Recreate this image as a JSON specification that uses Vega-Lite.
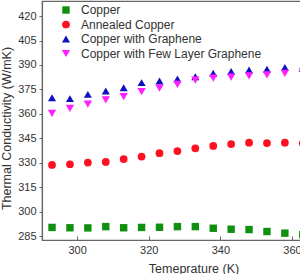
{
  "$schema": "https://vega.github.io/schema/vega-lite/v6.json",
  "width": 259,
  "height": 239,
  "autosize": {"type": "none"},
  "padding": {"left": 42, "top": 1, "right": 0, "bottom": 34},
  "background": "white",
  "config": {
    "view": {"stroke": "#666666", "strokeWidth": 1.2},
    "font": "Liberation Sans",
    "axis": {"domainColor": "#666666", "tickColor": "#666666", "labelColor": "#333333", "titleColor": "#333333", "labelFontSize": 11, "titleFontSize": 12.5, "titleFontWeight": "normal", "grid": false, "domainWidth": 1.2, "labelOverlap": false}
  },
  "data": {"values": [
    {"T": 293, "k": 290.5, "s": "Copper"},
    {"T": 298, "k": 290.3, "s": "Copper"},
    {"T": 303, "k": 290.2, "s": "Copper"},
    {"T": 308, "k": 291.0, "s": "Copper"},
    {"T": 313, "k": 290.3, "s": "Copper"},
    {"T": 318, "k": 290.5, "s": "Copper"},
    {"T": 323, "k": 290.6, "s": "Copper"},
    {"T": 328, "k": 291.0, "s": "Copper"},
    {"T": 333, "k": 291.0, "s": "Copper"},
    {"T": 338, "k": 290.0, "s": "Copper"},
    {"T": 343, "k": 289.4, "s": "Copper"},
    {"T": 348, "k": 289.2, "s": "Copper"},
    {"T": 353, "k": 288.0, "s": "Copper"},
    {"T": 358, "k": 287.0, "s": "Copper"},
    {"T": 363, "k": 286.0, "s": "Copper"},
    {"T": 293, "k": 328.8, "s": "Annealed Copper"},
    {"T": 298, "k": 329.2, "s": "Annealed Copper"},
    {"T": 303, "k": 330.2, "s": "Annealed Copper"},
    {"T": 308, "k": 330.6, "s": "Annealed Copper"},
    {"T": 313, "k": 332.4, "s": "Annealed Copper"},
    {"T": 318, "k": 333.9, "s": "Annealed Copper"},
    {"T": 323, "k": 336.0, "s": "Annealed Copper"},
    {"T": 328, "k": 337.3, "s": "Annealed Copper"},
    {"T": 333, "k": 339.0, "s": "Annealed Copper"},
    {"T": 338, "k": 340.4, "s": "Annealed Copper"},
    {"T": 343, "k": 341.6, "s": "Annealed Copper"},
    {"T": 348, "k": 342.4, "s": "Annealed Copper"},
    {"T": 353, "k": 342.2, "s": "Annealed Copper"},
    {"T": 358, "k": 342.4, "s": "Annealed Copper"},
    {"T": 363, "k": 342.0, "s": "Annealed Copper"},
    {"T": 293, "k": 370.0, "s": "Copper with Graphene"},
    {"T": 298, "k": 369.4, "s": "Copper with Graphene"},
    {"T": 303, "k": 372.0, "s": "Copper with Graphene"},
    {"T": 308, "k": 374.0, "s": "Copper with Graphene"},
    {"T": 313, "k": 376.0, "s": "Copper with Graphene"},
    {"T": 318, "k": 379.2, "s": "Copper with Graphene"},
    {"T": 323, "k": 380.2, "s": "Copper with Graphene"},
    {"T": 328, "k": 381.4, "s": "Copper with Graphene"},
    {"T": 333, "k": 382.8, "s": "Copper with Graphene"},
    {"T": 338, "k": 384.9, "s": "Copper with Graphene"},
    {"T": 343, "k": 386.0, "s": "Copper with Graphene"},
    {"T": 348, "k": 386.9, "s": "Copper with Graphene"},
    {"T": 353, "k": 387.4, "s": "Copper with Graphene"},
    {"T": 358, "k": 388.4, "s": "Copper with Graphene"},
    {"T": 363, "k": 388.0, "s": "Copper with Graphene"},
    {"T": 293, "k": 360.4, "s": "Copper with Few Layer Graphene"},
    {"T": 298, "k": 363.5, "s": "Copper with Few Layer Graphene"},
    {"T": 303, "k": 366.0, "s": "Copper with Few Layer Graphene"},
    {"T": 308, "k": 368.6, "s": "Copper with Few Layer Graphene"},
    {"T": 313, "k": 370.6, "s": "Copper with Few Layer Graphene"},
    {"T": 318, "k": 373.7, "s": "Copper with Few Layer Graphene"},
    {"T": 323, "k": 375.8, "s": "Copper with Few Layer Graphene"},
    {"T": 328, "k": 378.2, "s": "Copper with Few Layer Graphene"},
    {"T": 333, "k": 380.8, "s": "Copper with Few Layer Graphene"},
    {"T": 338, "k": 381.9, "s": "Copper with Few Layer Graphene"},
    {"T": 343, "k": 382.5, "s": "Copper with Few Layer Graphene"},
    {"T": 348, "k": 383.3, "s": "Copper with Few Layer Graphene"},
    {"T": 353, "k": 383.9, "s": "Copper with Few Layer Graphene"},
    {"T": 358, "k": 384.9, "s": "Copper with Few Layer Graphene"},
    {"T": 363, "k": 386.0, "s": "Copper with Few Layer Graphene"}
  ]},
  "mark": {"type": "point", "filled": true, "opacity": 1, "clip": true},
  "encoding": {
    "x": {"field": "T", "type": "quantitative", "scale": {"domain": [290.2, 362.5], "nice": false, "zero": false},
      "axis": {"title": "Temeprature (K)", "values": [300, 320, 340, 360], "tickSize": -4, "labelPadding": 8, "titleX": 151.5, "titlePadding": 7, "labelOverlap": false}},
    "y": {"field": "k", "type": "quantitative", "scale": {"domain": [282.8, 429.2], "nice": false, "zero": false},
      "axis": {"title": "Thermal Conductivity (W/mK)", "values": [285, 300, 315, 330, 345, 360, 375, 390, 405, 420], "format": "d", "tickSize": 3, "labelPadding": 3, "titlePadding": 4, "titleY": 127, "labelOverlap": false, "labelBound": false, "labelFlush": false}},
    "color": {"field": "s", "type": "nominal",
      "scale": {"domain": ["Copper", "Annealed Copper", "Copper with Graphene", "Copper with Few Layer Graphene"], "range": ["#109010", "#ff1020", "#1010c0", "#ff20ff"]},
      "legend": {"title": null, "orient": "none", "legendX": 18, "legendY": 3, "padding": 0, "labelFontSize": 12, "labelColor": "#333333", "symbolSize": 28, "labelOffset": 9, "rowPadding": 2.5, "labelLimit": 400}},
    "shape": {"field": "s", "type": "nominal",
      "scale": {"domain": ["Copper", "Annealed Copper", "Copper with Graphene", "Copper with Few Layer Graphene"], "range": ["square", "circle", "triangle-up", "triangle-down"]},
      "legend": null},
    "size": {"field": "s", "type": "nominal",
      "scale": {"domain": ["Copper", "Annealed Copper", "Copper with Graphene", "Copper with Few Layer Graphene"], "range": [55, 70, 85, 85]},
      "legend": null}
  }
}
